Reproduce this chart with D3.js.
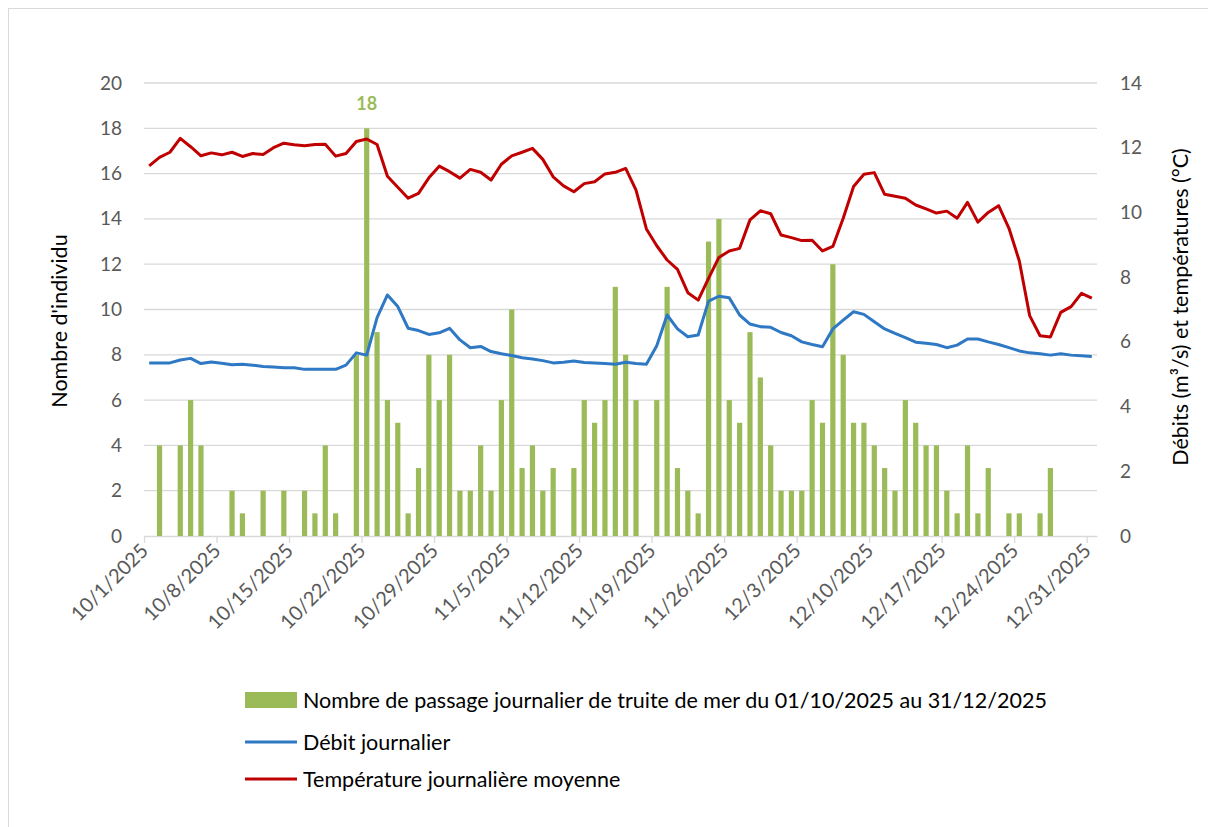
<!DOCTYPE html>
<html>
<head>
<meta charset="utf-8">
<script src="https://cdn.jsdelivr.net/npm/d3@7"></script>
<style>
body { margin: 0; background: #fff; }
svg text { font-family: Lato, "Open Sans", sans-serif; }
</style>
</head>
<body>
<svg id="chart" width="1208" height="827"></svg>
<script>
// daily data, 01/10/2025 -> 31/12/2025
var startDate = "2025-10-01";

var passages = [0,4,0,4,6,4,0,0,2,1,
	0,2,0,2,0,2,1,4,1,0,
	8,18,9,6,5,1,3,8,6,8,
	2,2,4,2,6,10,3,4,2,3,
	0,3,6,5,6,11,8,6,0,6,
	11,3,2,1,13,14,6,5,9,7,
	4,2,2,2,6,5,12,8,5,5,
	4,3,2,6,5,4,4,2,1,4,
	1,3,0,1,1,0,1,3,0,0,
	0,0];

var debits = [5.35,5.35,5.35,5.44,5.49,5.33,5.38,5.34,5.29,5.31,
	5.28,5.24,5.22,5.20,5.20,5.15,5.15,5.15,5.15,5.28,
	5.66,5.59,6.75,7.45,7.09,6.42,6.35,6.23,6.28,6.42,
	6.06,5.82,5.86,5.70,5.63,5.58,5.51,5.47,5.42,5.35,
	5.37,5.41,5.36,5.35,5.33,5.31,5.37,5.33,5.31,5.88,
	6.83,6.40,6.16,6.21,7.26,7.41,7.36,6.83,6.55,6.47,
	6.45,6.29,6.19,6.00,5.92,5.85,6.40,6.67,6.93,6.85,
	6.62,6.40,6.26,6.13,5.99,5.96,5.92,5.82,5.90,6.09,
	6.09,6.00,5.92,5.82,5.72,5.66,5.63,5.59,5.63,5.59,
	5.57,5.55];

var temperatures = [11.44,11.70,11.86,12.29,12.03,11.75,11.84,11.78,11.86,11.73,
	11.82,11.79,12.00,12.14,12.09,12.06,12.10,12.11,11.74,11.82,
	12.19,12.27,12.10,11.12,10.78,10.44,10.59,11.07,11.43,11.26,
	11.06,11.33,11.24,11.00,11.49,11.75,11.86,11.98,11.64,11.10,
	10.82,10.64,10.89,10.95,11.19,11.24,11.36,10.69,9.49,8.97,
	8.53,8.24,7.52,7.29,7.96,8.61,8.81,8.89,9.77,10.05,
	9.96,9.30,9.22,9.13,9.14,8.81,8.95,9.82,10.80,11.18,
	11.23,10.56,10.50,10.44,10.23,10.11,9.98,10.04,9.82,10.31,
	9.70,10.00,10.21,9.51,8.50,6.81,6.19,6.15,6.91,7.09,
	7.50,7.35];

var leftTicks = [0,2,4,6,8,10,12,14,16,18,20];
var rightTicks = [0,2,4,6,8,10,12,14];
var legendLabels = ["Nombre de passage journalier de truite de mer du 01/10/2025 au 31/12/2025",
	"Débit journalier",
	"Température journalière moyenne"];

var svg = d3.select("#chart"),
	margin = {top: 83, right: 111, bottom: 291, left: 144},
	width = 1208 - margin.left - margin.right,
	height = 827 - margin.top - margin.bottom,
	g = svg.append("g").attr("transform", "translate(" + margin.left + "," + margin.top + ")");

// outer frame
svg.append("rect")
	.attr("x", 8.5).attr("y", 8.5)
	.attr("width", 1220).attr("height", 840)
	.attr("fill", "none")
	.attr("stroke", "#d9d9d9");

var day0 = d3.utcParse("%Y-%m-%d")(startDate);
var dates = passages.map(function (d, i) { return d3.utcDay.offset(day0, i); });

var x = d3.scaleUtc()
	.domain([dates[0], d3.utcDay.offset(dates[dates.length - 1], 1)])
	.range([0, width]);
var slot = x(dates[1]) - x(dates[0]);
var cx = function (i) { return x(dates[i]) + slot / 2; };

var yLeft = d3.scaleLinear().domain([0, 20]).range([height, 0]);
var yRight = d3.scaleLinear().domain([0, 14]).range([height, 0]);

// gridlines
g.selectAll(".grid")
	.data(leftTicks.slice(1))
	.enter().append("line")
	.attr("x1", 0).attr("x2", width)
	.attr("y1", function (d) { return yLeft(d); })
	.attr("y2", function (d) { return yLeft(d); })
	.attr("stroke", "#d9d9d9")
	.attr("stroke-width", 1.3);

// x axis
var xAxis = g.append("g")
	.attr("transform", "translate(0," + height + ")")
	.call(d3.axisBottom(x)
		.tickValues(dates.filter(function (d, i) { return i % 7 == 0; }))
		.tickFormat(d3.utcFormat("%-m/%-d/%Y"))
		.tickSize(7)
		.tickSizeOuter(0));
xAxis.select(".domain").attr("stroke", "#d9d9d9").attr("stroke-width", 1.3);
xAxis.selectAll(".tick line").attr("stroke", "#d9d9d9").attr("stroke-width", 1.3);
xAxis.selectAll("text")
	.attr("y", 0)
	.attr("x", 0)
	.attr("dy", 0)
	.attr("transform", "translate(5,16) rotate(-45)")
	.style("text-anchor", "end")
	.attr("font-size", "20px")
	.attr("fill", "#595959");

// left axis
var left = g.append("g")
	.call(d3.axisLeft(yLeft).tickValues(leftTicks).tickSize(0).tickPadding(22));
left.select(".domain").remove();
left.selectAll("text").attr("font-size", "19px").attr("fill", "#595959");

// right axis
var right = g.append("g")
	.attr("transform", "translate(" + width + ",0)")
	.call(d3.axisRight(yRight).tickValues(rightTicks).tickSize(0).tickPadding(23));
right.select(".domain").remove();
right.selectAll("text").attr("font-size", "19px").attr("fill", "#595959");

// axis titles
svg.append("text")
	.attr("transform", "translate(67,321) rotate(-90)")
	.attr("text-anchor", "middle")
	.attr("font-size", "21.5px")
	.attr("fill", "#000")
	.text("Nombre d'individu");

svg.append("text")
	.attr("transform", "translate(1188,307) rotate(-90)")
	.attr("text-anchor", "middle")
	.attr("font-size", "21.5px")
	.attr("fill", "#000")
	.text("Débits (m³/s) et températures (°C)");

// bars
g.selectAll(".bar")
	.data(passages)
	.enter().append("rect")
	.attr("class", "bar")
	.attr("fill", "#9bbb59")
	.attr("x", function (d, i) { return cx(i) - 2.6; })
	.attr("y", function (d) { return yLeft(d); })
	.attr("width", 5.2)
	.attr("height", function (d) { return height - yLeft(d); });

// label on the biggest day
var maxI = d3.maxIndex(passages);
g.append("text")
	.attr("x", cx(maxI))
	.attr("y", yLeft(passages[maxI]) - 18)
	.attr("text-anchor", "middle")
	.attr("font-size", "18px")
	.attr("font-weight", "bold")
	.attr("fill", "#9bbb59")
	.text(passages[maxI]);

var line = d3.line()
	.x(function (d, i) { return cx(i); })
	.y(function (d) { return yRight(d); });

g.append("path")
	.datum(debits)
	.attr("fill", "none")
	.attr("stroke", "#2e78c4")
	.attr("stroke-width", 3)
	.attr("stroke-linejoin", "round")
	.attr("d", line);

g.append("path")
	.datum(temperatures)
	.attr("fill", "none")
	.attr("stroke", "#c00000")
	.attr("stroke-width", 3)
	.attr("stroke-linejoin", "round")
	.attr("d", line);

// legend
var legend = svg.append("g").attr("transform", "translate(245,700)");
legend.append("rect")
	.attr("x", 0).attr("y", -8)
	.attr("width", 52).attr("height", 16)
	.attr("fill", "#9bbb59");
legend.append("line")
	.attr("x1", 0).attr("x2", 52).attr("y1", 42).attr("y2", 42)
	.attr("stroke", "#2e78c4").attr("stroke-width", 3);
legend.append("line")
	.attr("x1", 0).attr("x2", 52).attr("y1", 79).attr("y2", 79)
	.attr("stroke", "#c00000").attr("stroke-width", 3);
legend.selectAll(".leg")
	.data(legendLabels)
	.enter().append("text")
	.attr("x", 58)
	.attr("y", function (d, i) { return [0, 42, 79][i]; })
	.attr("dy", "0.35em")
	.attr("font-size", "21.5px")
	.attr("fill", "#000")
	.text(function (d) { return d; });
</script>
</body>
</html>
